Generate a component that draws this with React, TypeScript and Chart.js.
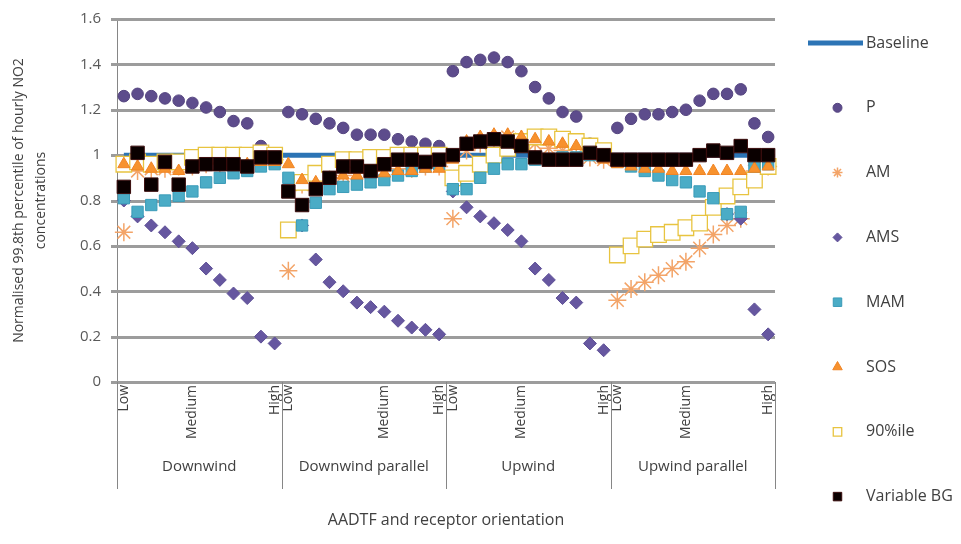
import React, { useEffect, useRef } from 'react';
import { Chart, registerables } from 'chart.js';
import { drawPoint } from 'chart.js/helpers';

Chart.register(...registerables);

const categories: string[] = [
  'Low', '', '', '', '', 'Medium', '', '', '', '', '', 'High',
  'Low', '', '', '', '', '', '', 'Medium', '', '', '', 'High',
  'Low', '', '', '', '', 'Medium', '', '', '', '', '', 'High',
  'Low', '', '', '', '', 'Medium', '', '', '', '', '', 'High',
];

const groups: string[] = ['Downwind', 'Downwind parallel', 'Upwind', 'Upwind parallel'];

const yTickValues: number[] = [0, 0.2, 0.4, 0.6, 0.8, 1, 1.2, 1.4, 1.6];
const yTickLabels: string[] = ['0', '0.2', '0.4', '0.6', '0.8', '1', '1.2', '1.4', '1.6'];

const yTitle: string[] = ['Normalised 99.8th percentile of hourly NO2', 'concentrations'];
const xTitle = 'AADTF and receptor orientation';

const baseline: number[] = [
  1, 1, 1, 1, 1, 1, 1, 1, 1, 1, 1, 1,
  1, 1, 1, 1, 1, 1, 1, 1, 1, 1, 1, 1,
  1, 1, 1, 1, 1, 1, 1, 1, 1, 1, 1, 1,
  1, 1, 1, 1, 1, 1, 1, 1, 1, 1, 1, 1,
];

const pSeries: number[] = [
  1.26, 1.27, 1.26, 1.25, 1.24, 1.23, 1.21, 1.19, 1.15, 1.14, 1.04, 1.0,
  1.19, 1.18, 1.16, 1.14, 1.12, 1.09, 1.09, 1.09, 1.07, 1.06, 1.05, 1.04,
  1.37, 1.41, 1.42, 1.43, 1.41, 1.37, 1.3, 1.25, 1.19, 1.17, 1.05, 1.02,
  1.12, 1.16, 1.18, 1.18, 1.19, 1.2, 1.24, 1.27, 1.27, 1.29, 1.14, 1.08,
];

const amSeries: number[] = [
  0.66, 0.93, 0.94, 0.94, 0.95, 0.95, 0.96, 0.96, 0.97, 0.97, 0.98, 0.98,
  0.49, 0.87, 0.88, 0.9, 0.91, 0.92, 0.93, 0.93, 0.94, 0.94, 0.95, 0.95,
  0.72, 1.02, 1.05, 1.07, 1.08, 1.07, 1.05, 1.03, 1.02, 1.0, 0.99, 0.98,
  0.36, 0.41, 0.44, 0.47, 0.5, 0.53, 0.59, 0.65, 0.69, 0.72, 0.93, 0.95,
];

const amsSeries: number[] = [
  0.8, 0.73, 0.69, 0.66, 0.62, 0.59, 0.5, 0.45, 0.39, 0.37, 0.2, 0.17,
  0.67, 0.69, 0.54, 0.44, 0.4, 0.35, 0.33, 0.31, 0.27, 0.24, 0.23, 0.21,
  0.84, 0.77, 0.73, 0.7, 0.67, 0.62, 0.5, 0.45, 0.37, 0.35, 0.17, 0.14,
  0.56, 0.6, 0.63, 0.65, 0.66, 0.68, 0.7, 0.77, 0.74, 0.72, 0.32, 0.21,
];

const mamSeries: number[] = [
  0.81, 0.75, 0.78, 0.8, 0.82, 0.84, 0.88, 0.9, 0.92, 0.93, 0.95, 0.96,
  0.9, 0.69, 0.79, 0.85, 0.86, 0.87, 0.88, 0.89, 0.91, 0.93, 0.95, 0.96,
  0.85, 0.85, 0.9, 0.94, 0.96, 0.96, 0.98, 0.98, 0.99, 0.99, 1.0, 1.0,
  0.97, 0.95, 0.93, 0.91, 0.89, 0.88, 0.84, 0.81, 0.74, 0.75, 0.95, 0.96,
];

const sosSeries: number[] = [
  0.96, 0.95, 0.94, 0.94, 0.93, 0.94, 0.95, 0.95, 0.95, 0.96, 0.97, 0.97,
  0.96, 0.89, 0.88, 0.9, 0.91, 0.91, 0.92, 0.92, 0.93, 0.93, 0.94, 0.94,
  0.98, 1.06, 1.08, 1.09, 1.09, 1.08, 1.07, 1.06, 1.05, 1.04, 1.0, 0.98,
  0.96, 0.95, 0.94, 0.94, 0.93, 0.93, 0.93, 0.93, 0.93, 0.93, 0.94, 0.95,
];

const pct90Series: number[] = [
  0.96, 0.97, 0.96, 0.97, 0.97, 0.99, 1.0, 1.0, 1.0, 1.0, 1.01, 1.0,
  0.67, 0.88, 0.92, 0.96, 0.98, 0.98, 0.99, 0.99, 1.0, 1.0, 1.0, 1.0,
  0.9, 0.92, 0.96, 1.0, 1.03, 1.06, 1.08, 1.08, 1.07, 1.06, 1.04, 1.02,
  0.56, 0.6, 0.63, 0.65, 0.66, 0.68, 0.7, 0.77, 0.82, 0.86, 0.89, 0.95,
];

const varBgSeries: number[] = [
  0.86, 1.01, 0.87, 0.97, 0.87, 0.95, 0.96, 0.96, 0.96, 0.95, 0.99, 0.99,
  0.84, 0.78, 0.85, 0.9, 0.95, 0.95, 0.93, 0.96, 0.98, 0.98, 0.97, 0.98,
  1.0, 1.05, 1.06, 1.07, 1.06, 1.04, 0.99, 0.98, 0.98, 0.98, 1.01, 1.0,
  0.98, 0.98, 0.98, 0.98, 0.98, 0.98, 1.0, 1.02, 1.01, 1.04, 1.0, 1.0,
];

const FONT = '"Open Sans", "DejaVu Sans", sans-serif';

function scatter(label: string, data: number[], style: string, radius: number, bg: string, border: string, bw: number, order: number, legendRadius: number) {
  return {
    label,
    data,
    showLine: false,
    fill: false,
    pointStyle: style,
    pointRadius: radius,
    pointHoverRadius: radius,
    pointBackgroundColor: bg,
    pointBorderColor: border,
    pointBorderWidth: bw,
    backgroundColor: bg,
    borderColor: border,
    order,
    legendRadius,
  } as any;
}

function valueToPixel(yScale: any, v: number) {
  let py = yScale.getPixelForValue(v);
  if (!Number.isFinite(py)) {
    py = yScale.bottom - ((v - yScale.min) / (yScale.max - yScale.min)) * (yScale.bottom - yScale.top);
  }
  return py;
}

const gridPlugin = {
  id: 'hGrid',
  afterDatasetsDraw(chart: any) {
    const ctx: CanvasRenderingContext2D = chart.ctx;
    const area = chart.chartArea;
    const yScale = chart.scales.y;
    ctx.save();
    ctx.globalCompositeOperation = 'destination-over';
    ctx.fillStyle = '#9c9c9c';
    for (const v of yTickValues) {
      const py = Math.round(valueToPixel(yScale, v));
      ctx.fillRect(Math.round(area.left) - 6, py - 1, Math.round(area.right - area.left) + 6, 3);
    }
    ctx.fillStyle = '#868686';
    ctx.fillRect(Math.round(area.left), Math.round(area.top), 1, Math.round(area.bottom - area.top));
    ctx.restore();
  },
};

const groupAxisPlugin = {
  id: 'groupAxis',
  afterDraw(chart: any) {
    const { ctx, chartArea } = chart;
    const x = chart.scales.x;
    const perGroup = categories.length / groups.length;
    const edges: number[] = [chartArea.left];
    for (let g = 1; g < groups.length; g++) {
      edges.push((x.getPixelForValue(g * perGroup - 1) + x.getPixelForValue(g * perGroup)) / 2);
    }
    edges.push(chartArea.right);
    ctx.save();
    ctx.fillStyle = '#868686';
    edges.forEach((px) => {
      ctx.fillRect(Math.round(px), Math.round(chartArea.bottom), 1, 489 - Math.round(chartArea.bottom));
    });
    ctx.fillStyle = '#404040';
    ctx.font = `15px ${FONT}`;
    ctx.textAlign = 'center';
    ctx.textBaseline = 'middle';
    groups.forEach((g, i) => {
      ctx.fillText(g, (edges[i] + edges[i + 1]) / 2, 467);
    });
    ctx.restore();
  },
};

const sideLegendPlugin = {
  id: 'sideLegend',
  afterDraw(chart: any) {
    const { ctx, chartArea } = chart;
    const x0 = chartArea.right + 33;
    const boxW = 55;
    ctx.save();
    chart.data.datasets.forEach((ds: any, i: number) => {
      const y = 43 + i * 64.8;
      if (ds.showLine) {
        ctx.fillStyle = ds.borderColor;
        ctx.fillRect(x0, y - 2.5, boxW, 5);
      } else {
        ctx.fillStyle = ds.pointBackgroundColor;
        ctx.strokeStyle = ds.pointBorderColor;
        ctx.lineWidth = ds.pointBorderWidth;
        drawPoint(ctx, { pointStyle: ds.pointStyle, radius: ds.legendRadius, borderWidth: ds.pointBorderWidth, rotation: 0 } as any, x0 + boxW / 2 + 2, y);
      }
      ctx.fillStyle = '#404040';
      ctx.font = `16px ${FONT}`;
      ctx.textAlign = 'left';
      ctx.textBaseline = 'middle';
      ctx.fillText(ds.label, x0 + boxW + 3, y);
    });
    ctx.restore();
  },
};

const whiteBackground = {
  id: 'whiteBg',
  afterDraw(chart: any) {
    const ctx: CanvasRenderingContext2D = chart.ctx;
    ctx.save();
    ctx.globalCompositeOperation = 'destination-over';
    ctx.fillStyle = '#ffffff';
    ctx.fillRect(0, 0, chart.width, chart.height);
    ctx.restore();
  },
};

export default function App() {
  const ref = useRef<HTMLCanvasElement>(null);
  useEffect(() => {
    document.body.style.margin = '0';
    const datasets: any[] = [
      {
        label: 'Baseline',
        data: baseline,
        showLine: true,
        fill: false,
        borderColor: '#2C74B5',
        backgroundColor: '#2C74B5',
        borderWidth: 5,
        pointRadius: 0,
        pointHoverRadius: 0,
        order: 8,
      },
      scatter('P', pSeries, 'circle', 5.8, '#5D4C8C', '#54447F', 1, 7, 4.5),
      scatter('AM', amSeries, 'star', 9, 'rgba(0,0,0,0)', '#F3A468', 1.5, 6, 5),
      scatter('AMS', amsSeries, 'rectRot', 6.5, '#6657A0', '#5E5096', 1, 5, 4.5),
      scatter('MAM', mamSeries, 'rect', 8, '#4BACC6', '#3A9BB8', 1, 4, 6),
      scatter('SOS', sosSeries, 'triangle', 7, '#F7922E', '#F08424', 1, 3, 5.5),
      scatter('90%ile', pct90Series, 'rect', 11, '#FFFFFF', '#E8C440', 1.3, 4.5, 6),
      scatter('Variable BG', varBgSeries, 'rect', 9.5, '#0A0000', '#3A0C0C', 1, 1, 6),
    ];
    const chart = new Chart(ref.current as HTMLCanvasElement, {
      type: 'line',
      data: { labels: categories, datasets },
      options: {
        animation: false,
        responsive: false,
        layout: { padding: { top: 19, right: 186, left: 0, bottom: 0 } },
        plugins: {
          legend: { display: false },
          tooltip: { enabled: false },
        },
        scales: {
          x: {
            type: 'category',
            offset: true,
            grid: { display: false, drawTicks: false },
            border: { display: false },
            ticks: {
              autoSkip: false,
              minRotation: 90,
              maxRotation: 90,
              padding: 3,
              color: '#404040',
              font: { family: FONT, size: 14 },
            },
            title: {
              display: true,
              text: xTitle,
              color: '#404040',
              font: { family: FONT, size: 16 },
              padding: { top: 0, bottom: 14 },
            },
            afterFit: (s: any) => {
              s.height = 162;
            },
          },
          y: {
            min: 0,
            max: 1.6,
            ticks: {
              stepSize: 0.2,
              callback: (_v: any, i: number) => yTickLabels[i],
              color: '#595959',
              font: { family: FONT, size: 15 },
              padding: 10,
            },
            grid: { display: false, tickLength: 6 },
            border: { display: false },
            title: {
              display: true,
              text: yTitle,
              color: '#404040',
              font: { family: FONT, size: 14, lineHeight: 1.55 },
              padding: { top: 8, bottom: 0 },
            },
            afterFit: (s: any) => {
              s.width = 117;
            },
          },
        },
      } as any,
      plugins: [gridPlugin, groupAxisPlugin, sideLegendPlugin, whiteBackground],
    });
    return () => chart.destroy();
  }, []);
  return (
    <div style={{ width: 961, height: 544, position: 'relative' }}>
      <canvas ref={ref} width={961} height={544} style={{ display: 'block' }} />
    </div>
  );
}
